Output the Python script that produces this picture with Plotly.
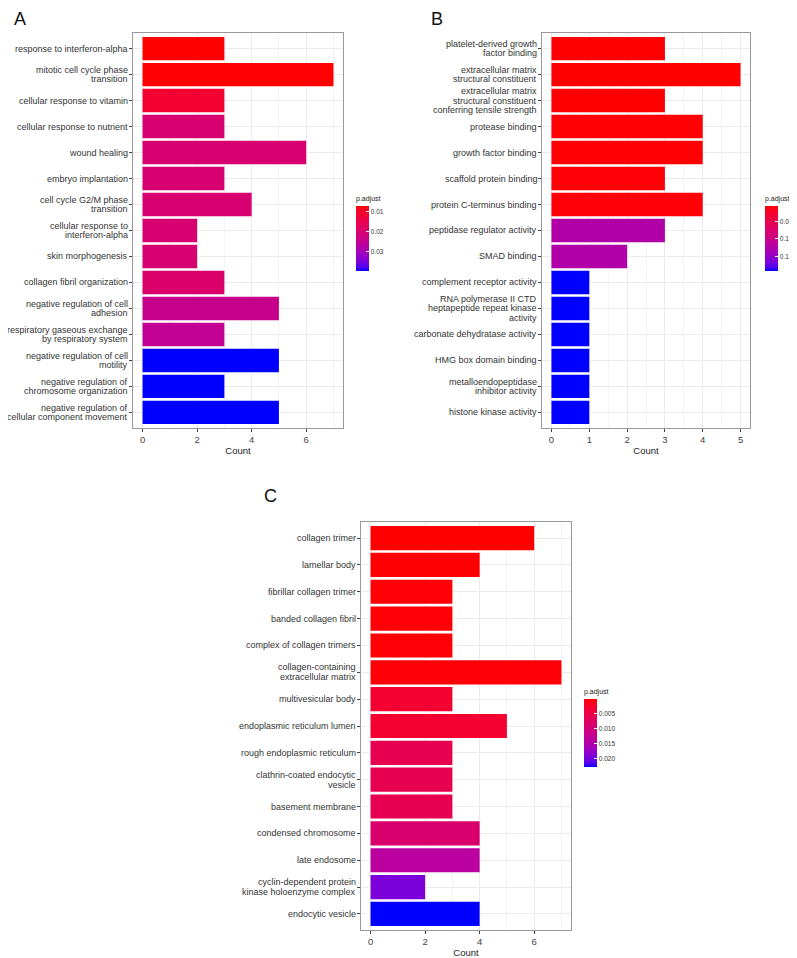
import plotly.graph_objects as go

# ---------------- data ----------------
a_terms = ["response to interferon-alpha", "mitotic cell cycle phase<br>transition",
           "cellular response to vitamin", "cellular response to nutrient", "wound healing",
           "embryo implantation", "cell cycle G2/M phase<br>transition",
           "cellular response to<br>interferon-alpha", "skin morphogenesis",
           "collagen fibril organization", "negative regulation of cell<br>adhesion",
           "respiratory gaseous exchange<br>by respiratory system",
           "negative regulation of cell<br>motility", "negative regulation of<br>chromosome organization",
           "negative regulation of<br>cellular component movement"]
a_count = [3, 7, 3, 3, 6, 3, 4, 2, 2, 3, 5, 3, 5, 3, 5]
a_padj = [0.0071, 0.0073, 0.0113, 0.020, 0.020, 0.020, 0.020, 0.020, 0.020, 0.019,
          0.024, 0.025, 0.0398, 0.0398, 0.0398]

b_terms = ["platelet-derived growth<br>factor binding", "extracellular matrix<br>structural constituent",
           "extracellular matrix<br>structural constituent<br>conferring tensile strength",
           "protease binding", "growth factor binding", "scaffold protein binding",
           "protein C-terminus binding", "peptidase regulator activity", "SMAD binding",
           "complement receptor activity",
           "RNA polymerase II CTD<br>heptapeptide repeat kinase<br>activity",
           "carbonate dehydratase activity", "HMG box domain binding",
           "metalloendopeptidase<br>inhibitor activity", "histone kinase activity"]
b_count = [3, 5, 3, 4, 4, 3, 4, 3, 2, 1, 1, 1, 1, 1, 1]
b_padj = [0.006, 0.006, 0.006, 0.007, 0.007, 0.008, 0.008, 0.125, 0.125,
          0.192, 0.192, 0.192, 0.192, 0.192, 0.192]

c_terms = ["collagen trimer", "lamellar body", "fibrillar collagen trimer", "banded collagen fibril",
           "complex of collagen trimers", "collagen-containing<br>extracellular matrix",
           "multivesicular body", "endoplasmic reticulum lumen", "rough endoplasmic reticulum",
           "clathrin-coated endocytic<br>vesicle", "basement membrane", "condensed chromosome",
           "late endosome", "cyclin-dependent protein<br>kinase holoenzyme complex", "endocytic vesicle"]
c_count = [6, 4, 3, 3, 3, 7, 3, 5, 3, 3, 3, 4, 4, 2, 4]
c_padj = [0.0001, 0.0002, 0.0003, 0.0003, 0.0003, 0.0004, 0.0030, 0.0030, 0.0058, 0.0058,
          0.0060, 0.0088, 0.0138, 0.0195, 0.0229]

a_cticks = [0.01, 0.02, 0.03]
b_cticks = [0.05, 0.10, 0.15]
c_cticks = [0.005, 0.010, 0.015, 0.020]


# ---------------- red->blue gradient in Lab space (like ggplot) ----------------
def _lin(c):
    c = c / 255.0
    return c / 12.92 if c <= 0.04045 else ((c + 0.055) / 1.055) ** 2.4


def _gam(c):
    c = 12.92 * c if c <= 0.0031308 else 1.055 * c ** (1 / 2.4) - 0.055
    return max(0, min(255, round(c * 255)))


def rgb2lab(r, g, b):
    r, g, b = _lin(r), _lin(g), _lin(b)
    x = (0.4124 * r + 0.3576 * g + 0.1805 * b) / 0.95047
    y = (0.2126 * r + 0.7152 * g + 0.0722 * b)
    z = (0.0193 * r + 0.1192 * g + 0.9505 * b) / 1.08883
    f = lambda t: t ** (1 / 3) if t > 0.008856 else 7.787 * t + 16 / 116
    fx, fy, fz = f(x), f(y), f(z)
    return 116 * fy - 16, 500 * (fx - fy), 200 * (fy - fz)


def lab2rgb(L, a, b):
    fy = (L + 16) / 116
    fx = fy + a / 500
    fz = fy - b / 200
    finv = lambda t: t ** 3 if t ** 3 > 0.008856 else (t - 16 / 116) / 7.787
    x, y, z = finv(fx) * 0.95047, finv(fy), finv(fz) * 1.08883
    r = 3.2406 * x - 1.5372 * y - 0.4986 * z
    g = -0.9689 * x + 1.8758 * y + 0.0415 * z
    bb = 0.0557 * x - 0.2040 * y + 1.0570 * z
    return _gam(max(r, 0)), _gam(max(g, 0)), _gam(max(bb, 0))


# colour is mapped on -p so that the colourbar shows small p (red) on top, like ggplot
lo, hi = rgb2lab(0, 0, 255), rgb2lab(255, 0, 0)
N = 20
scale = []
for i in range(N + 1):
    t = i / N
    lab = [lo[k] + (hi[k] - lo[k]) * t for k in range(3)]
    r, g, b = lab2rgb(*lab)
    scale.append([t, f"rgb({r},{g},{b})"])

FONT = "Liberation Sans, Arial, sans-serif"
OFF = 8                      # page body margin of the html page
W, H = 797 - OFF, 958 - OFF
LS = 9.8  # line spacing of the wrapped y labels, px


def px_x(p):
    return (p - OFF) / W


def px_y(p):
    return 1 - (p - OFF) / H


fig = go.Figure()

panels = [
    dict(terms=a_terms, count=a_count, padj=a_padj, ticks=a_cticks, tfmt="{:.2f}",
         xa="x", ya="y", box=(133, 343, 33, 428), xrange=[-0.35, 7.35], dtick=2,
         cb=(356, 193, 271), letter=("A", 20, 19)),
    dict(terms=b_terms, count=b_count, padj=b_padj, ticks=b_cticks, tfmt="{:.2f}",
         xa="x2", ya="y2", box=(542, 750, 33, 428), xrange=[-0.25, 5.25], dtick=1,
         cb=(765, 193, 271), letter=("B", 437, 19)),
    dict(terms=c_terms, count=c_count, padj=c_padj, ticks=c_cticks, tfmt="{:.3f}",
         xa="x3", ya="y3", box=(361, 571, 522, 930), xrange=[-0.35, 7.35], dtick=2,
         cb=(584, 686, 767), letter=("C", 270, 496)),
]

layout_axes = {}
annotations = []
for i, p in enumerate(panels):
    l, r, t, b = p["box"]
    cbx, cbt, cbb = p["cb"]
    neg = [-v for v in p["padj"]]
    fig.add_trace(go.Bar(
        x=p["count"], y=p["terms"], orientation="h", width=0.9,
        xaxis=p["xa"], yaxis=p["ya"],
        marker=dict(color=neg, colorscale=scale, cmin=min(neg), cmax=max(neg),
                    line=dict(width=0),
                    colorbar=dict(
                        title=dict(text="p.adjust", side="top", font=dict(size=7, color="#222", family=FONT)),
                        tickvals=[-v for v in p["ticks"]], ticktext=[p["tfmt"].format(v) for v in p["ticks"]],
                        tickfont=dict(size=6.5, color="#333", family=FONT),
                        ticks="inside", ticklen=3, tickcolor="white",
                        thickness=13, thicknessmode="pixels",
                        len=cbb - cbt, lenmode="pixels",
                        x=px_x(cbx), xanchor="left", xpad=0,
                        y=px_y(cbt), yanchor="top", ypad=0,
                        outlinewidth=0,
                    )),
        showlegend=False,
    ))
    suffix = "" if i == 0 else str(i + 1)
    layout_axes["xaxis" + suffix] = dict(
        domain=[px_x(l), px_x(r)], anchor=p["ya"], range=p["xrange"],
        tick0=0, dtick=p["dtick"], showgrid=True, gridcolor="#EBEBEB", gridwidth=1,
        minor=dict(showgrid=True, dtick=p["dtick"] / 2, tick0=0, gridcolor="#F4F4F4", gridwidth=0.6),
        zeroline=False, showline=True, mirror=True, linecolor="#999999", linewidth=1,
        ticks="outside", ticklen=3, tickcolor="#444",
        tickfont=dict(size=9.5, color="#444", family=FONT),
        title=dict(text="Count", font=dict(size=9.5, color="#222", family=FONT), standoff=2),
    )
    layout_axes["yaxis" + suffix] = dict(
        domain=[px_y(b), px_y(t)], anchor=p["xa"], type="category",
        categoryorder="array", categoryarray=p["terms"], range=[14.6, -0.6],
        showgrid=True, gridcolor="#EBEBEB", gridwidth=1,
        zeroline=False, showline=True, mirror=True, linecolor="#999999", linewidth=1,
        ticks="outside", ticklen=3, tickcolor="#444", showticklabels=False,
    )
    # wrapped category labels, one text per line so the line spacing matches
    for term in p["terms"]:
        lines = term.split("<br>")
        n = len(lines)
        for j, line in enumerate(lines):
            annotations.append(dict(
                text=line, xref=p["xa"] + " domain", x=0, yref=p["ya"], y=term,
                xanchor="right", yanchor="middle", xshift=-4, yshift=((n - 1) / 2 - j) * LS,
                showarrow=False, borderpad=0,
                font=dict(size=9.0, color="#333", family=FONT)))
    letter, lx, ly = p["letter"]
    annotations.append(dict(text=letter, x=px_x(lx), y=px_y(ly), xref="paper", yref="paper",
                            xanchor="center", yanchor="middle", showarrow=False, borderpad=0,
                            font=dict(size=18, color="#111", family=FONT)))

fig.update_layout(
    width=W, height=H, margin=dict(l=0, r=0, t=0, b=0, autoexpand=False),
    paper_bgcolor="white", plot_bgcolor="white",
    font=dict(family=FONT),
    annotations=annotations,
    **layout_axes,
)

fig.write_html("out.html")
